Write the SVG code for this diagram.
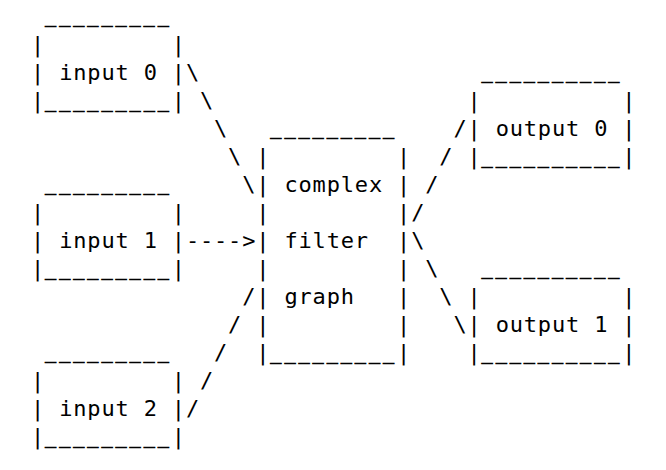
<svg xmlns="http://www.w3.org/2000/svg" width="666" height="470" viewBox="0 0 666 470">
<style>
text{font-family:"DejaVu Sans Mono","Liberation Mono",monospace;font-size:22px;letter-spacing:0.836px;fill:#000;white-space:pre}
.u{font-size:18.5px;letter-spacing:2.94px;stroke:#000;stroke-width:0.8px}
</style>
<rect width="666" height="470" fill="#fff"/>
<g id="input0" xml:space="preserve">
<text x="45.08" y="23"><tspan class="u">_________</tspan></text>
<text x="31" y="52">|         |</text>
<text x="31" y="80">| input 0 |</text>
<text x="31" y="108">|<tspan class="u">_________</tspan>|</text>
</g>
<g id="input1" xml:space="preserve">
<text x="45.08" y="191"><tspan class="u">_________</tspan></text>
<text x="31" y="220">|         |</text>
<text x="31" y="248">| input 1 |</text>
<text x="31" y="276">|<tspan class="u">_________</tspan>|</text>
</g>
<g id="input2" xml:space="preserve">
<text x="45.08" y="359"><tspan class="u">_________</tspan></text>
<text x="31" y="388">|         |</text>
<text x="31" y="416">| input 2 |</text>
<text x="31" y="444">|<tspan class="u">_________</tspan>|</text>
</g>
<g id="complex" xml:space="preserve">
<text x="270.36" y="135"><tspan class="u">_________</tspan></text>
<text x="256.28" y="164">|         |</text>
<text x="256.28" y="192">| complex |</text>
<text x="256.28" y="220">|         |</text>
<text x="256.28" y="248">| filter  |</text>
<text x="256.28" y="276">|         |</text>
<text x="256.28" y="304">| graph   |</text>
<text x="256.28" y="332">|         |</text>
<text x="256.28" y="360">|<tspan class="u">_________</tspan>|</text>
</g>
<g id="output0" xml:space="preserve">
<text x="481.56" y="79"><tspan class="u">__________</tspan></text>
<text x="467.48" y="108">|          |</text>
<text x="467.48" y="136">| output 0 |</text>
<text x="467.48" y="164">|<tspan class="u">__________</tspan>|</text>
</g>
<g id="output1" xml:space="preserve">
<text x="481.56" y="275"><tspan class="u">__________</tspan></text>
<text x="467.48" y="304">|          |</text>
<text x="467.48" y="332">| output 1 |</text>
<text x="467.48" y="360">|<tspan class="u">__________</tspan>|</text>
</g>
<g id="connectors" xml:space="preserve">
<text x="185.88" y="80">\</text>
<text x="199.96" y="108">\</text>
<text x="214.04" y="136">\</text>
<text x="228.12" y="164">\</text>
<text x="242.2" y="192">\</text>
<text x="185.88" y="248">----&gt;</text>
<text x="242.2" y="304">/</text>
<text x="228.12" y="332">/</text>
<text x="214.04" y="360">/</text>
<text x="199.96" y="388">/</text>
<text x="185.88" y="416">/</text>
<text x="453.4" y="136">/</text>
<text x="439.32" y="164">/</text>
<text x="425.24" y="192">/</text>
<text x="411.16" y="220">/</text>
<text x="411.16" y="248">\</text>
<text x="425.24" y="276">\</text>
<text x="439.32" y="304">\</text>
<text x="453.4" y="332">\</text>
</g>
</svg>
